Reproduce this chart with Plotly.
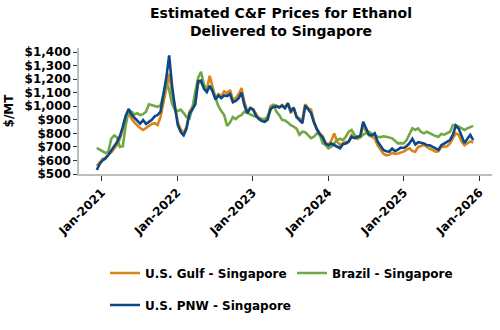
import pandas as pd
import plotly.graph_objects as go

# Biweekly observation dates (Dec 2020 - Dec 2025)
dates = pd.date_range("2020-12-08", periods=131, freq="14D")

gulf = [
    560, 585, 610, 620, 645, 660, 690, 715, 760, 830,
    920, 950, 910, 880, 860, 838, 825, 840, 858, 870,
    875, 862, 920, 1040, 1130, 1240, 1100, 1000, 880, 830,
    800, 850, 960, 995, 1020, 1170, 1180, 1140, 1120, 1225,
    1150, 1060, 1090, 1075, 1110, 1095, 1120, 1050, 1060, 1090,
    1135, 1030, 960, 990, 980, 940, 910, 900, 905, 915,
    1000, 1010, 1005, 995, 1010, 990, 1025, 950, 985, 925,
    910, 900, 1015, 985, 975, 890, 835, 800, 780, 730,
    715, 745, 800, 740, 715, 725, 738, 740, 788, 770,
    760, 770, 860, 815, 785, 775, 760, 712, 680, 650,
    638, 642, 655, 648, 652, 660, 665, 680, 690, 670,
    665, 700, 710, 714, 701, 685, 677, 665, 668, 700,
    701, 705, 725, 765, 800, 790, 740, 712, 725, 740,
    732,
]

brazil = [
    692, 680, 670, 655, 665, 760, 785, 770, 700, 705,
    860, 965, 960, 940, 948, 935, 942, 960, 1015, 1010,
    1005, 996, 1005, 1080, 1180, 1120, 1020, 975, 965, 975,
    950, 920, 910, 985, 1105, 1210, 1255, 1160, 1130, 1145,
    1120, 1060, 1000, 965, 935, 855, 880, 920, 905, 925,
    935, 960, 950, 935, 930, 922, 912, 905, 898, 925,
    972, 1015, 960, 935, 900, 895, 880, 860, 850, 835,
    790, 812, 808, 790, 765, 775, 800, 790, 726, 715,
    690, 702, 726, 750, 760, 750, 775, 812, 825, 790,
    775, 772, 790, 800, 812, 795, 785, 775, 772, 778,
    775, 770, 763, 745, 726, 728, 726, 751, 800, 837,
    825, 837, 810, 800, 812, 800, 788, 780, 775, 795,
    790, 800, 812, 861, 860, 850, 835, 825, 837, 848,
    855,
]

pnw = [
    530, 575, 600, 615, 640, 668, 705, 735, 780, 850,
    930, 980, 940, 915, 895, 872, 898, 870, 885, 900,
    925, 935, 960, 1080, 1210, 1375, 1150, 990, 860, 810,
    785, 835, 945, 975, 1015, 1185, 1190, 1130, 1105, 1150,
    1110, 1050, 1080, 1060, 1080, 1075, 1090, 1030, 1040, 1060,
    1100, 1005, 950, 985, 975, 930, 905, 890, 885, 900,
    980, 995, 1000, 990, 1005, 985, 1020, 965, 990, 920,
    895, 875, 1005, 975, 950, 880, 830, 795, 770, 725,
    712, 725, 715, 700, 690, 720, 725, 738, 775, 765,
    775, 780, 885, 830, 790, 785, 800, 740, 705, 677,
    668, 665, 688, 668, 680, 695, 692, 705, 728, 760,
    718, 735, 730, 726, 714, 712, 700, 688, 678, 712,
    726, 735, 751, 790, 858, 835, 775, 728, 760, 788,
    750,
]

names = ["U.S. Gulf - Singapore", "Brazil - Singapore", "U.S. PNW - Singapore"]
colors = ["#D8861C", "#71A843", "#0B4886"]
y_ticks = [500, 600, 700, 800, 900, 1000, 1100, 1200, 1300, 1400]
y_labels = ["$500", "$600", "$700", "$800", "$900", "$1,000", "$1,100", "$1,200", "$1,300", "$1,400"]
x_ticks = ["2021-01-01", "2022-01-01", "2023-01-01", "2024-01-01", "2025-01-01", "2026-01-01"]
x_labels = ["Jan-2021", "Jan-2022", "Jan-2023", "Jan-2024", "Jan-2025", "Jan-2026"]

FONT = "DejaVu Sans"

fig = go.Figure()
for series, name, color, leg in zip([gulf, brazil, pnw], names, colors, ["legend", "legend", "legend2"]):
    fig.add_trace(go.Scatter(
        x=dates, y=series, mode="lines", name=name,
        line=dict(color=color, width=2.6),
        legend=leg,
    ))

fig.update_layout(
    width=500, height=330,
    margin=dict(l=76, r=8, t=48, b=156),
    paper_bgcolor="white", plot_bgcolor="white",
    font=dict(family=FONT, size=12, color="black", weight="bold"),
    title=dict(
        text="Estimated C&F Prices for Ethanol<br>Delivered to Singapore",
        x=281 / 500, xanchor="center", xref="container",
        y=0.945, yanchor="top", yref="container",
        font=dict(family=FONT, size=14, color="black", weight="bold"),
    ),
    xaxis=dict(
        type="date",
        range=["2020-09-13", "2026-03-03"],
        tickvals=x_ticks, ticktext=x_labels, tickangle=-45,
        showgrid=False, zeroline=False,
        showline=True, linecolor="#BDBDBD", linewidth=1.5,
        ticks="outside", ticklen=5, tickcolor="#333333", tickwidth=1,
        tickfont=dict(family=FONT, size=12, color="black", weight="bold"),
    ),
    yaxis=dict(
        range=[500, 1430],
        tickvals=y_ticks, ticktext=y_labels,
        showgrid=False, zeroline=False,
        showline=True, linecolor="#BDBDBD", linewidth=1.5,
        ticks="outside", ticklen=4, tickcolor="#333333", tickwidth=1,
        tickfont=dict(family=FONT, size=12, color="black", weight="bold"),
        title=dict(text="$/MT", standoff=8,
                   font=dict(family=FONT, size=12, color="black", weight="bold")),
    ),
    legend=dict(
        orientation="h", xref="container", yref="container",
        x=105 / 500, xanchor="left", y=1 - 273 / 330, yanchor="middle",
        entrywidth=142, entrywidthmode="pixels",
        font=dict(family=FONT, size=12, color="black", weight="bold"),
        bgcolor="rgba(0,0,0,0)",
    ),
    legend2=dict(
        orientation="h", xref="container", yref="container",
        x=105 / 500, xanchor="left", y=1 - 305 / 330, yanchor="middle",
        font=dict(family=FONT, size=12, color="black", weight="bold"),
        bgcolor="rgba(0,0,0,0)",
    ),
    showlegend=True,
)

fig.write_html("out.html")
